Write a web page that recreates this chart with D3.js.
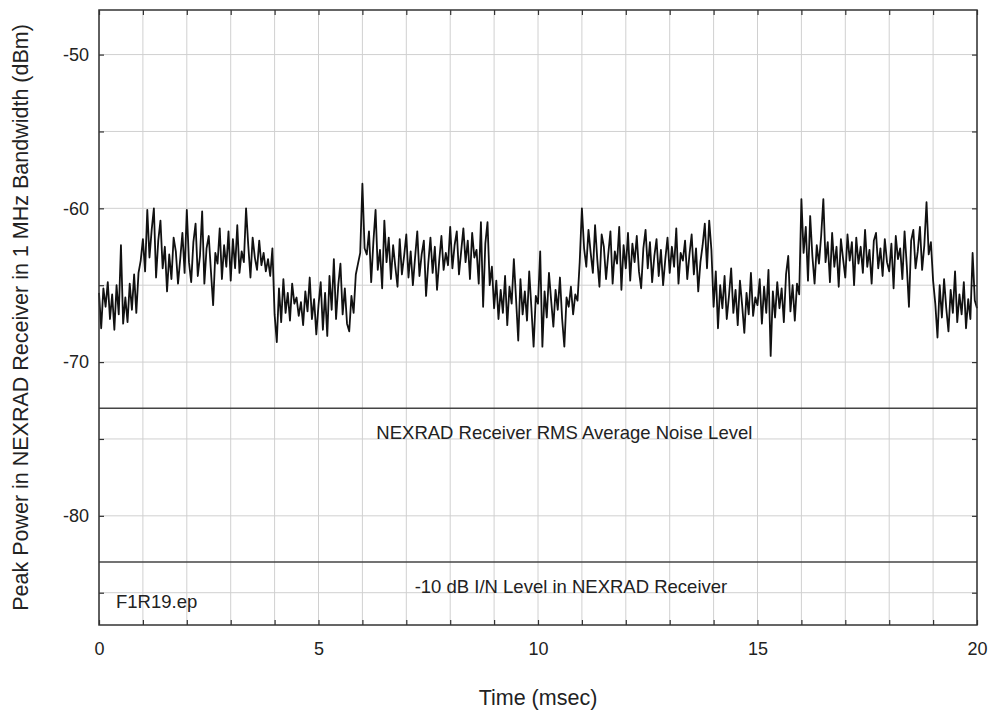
<!DOCTYPE html>
<html>
<head>
<meta charset="utf-8">
<script src="https://cdn.jsdelivr.net/npm/d3@7"></script>
<style>
  body { margin: 0; background: #fff; }
  svg text { font-family: "Liberation Sans", Arial, Helvetica, sans-serif; fill: #222; }
</style>
</head>
<body>
<div id="chart"></div>
<script>
// sampled every 0.05 msec, one row per msec
const timeStep = 0.05;
const peakPower = [
  -65.5,-67.8,-65.2,-66.4,-64.8,-67.2,-65.6,-67.9,-65.0,-66.9,-62.4,-67.5,-65.8,-67.4,-64.9,-66.6,-64.3,-66.8,-64.2,-63.4,
  -62.0,-64.1,-60.1,-63.2,-61.4,-60.0,-64.5,-62.1,-60.8,-63.9,-62.5,-65.4,-63.0,-64.6,-61.9,-62.8,-64.9,-63.3,-61.6,-64.2,
  -60.1,-63.5,-64.8,-62.2,-61.0,-64.4,-63.1,-60.2,-64.9,-62.6,-61.8,-64.1,-66.3,-62.9,-63.6,-61.3,-64.6,-62.4,-63.8,-61.5,
  -64.7,-62.0,-63.9,-61.1,-64.2,-62.8,-63.5,-60.0,-62.4,-64.5,-61.9,-63.2,-64.0,-62.1,-63.7,-62.9,-64.1,-63.3,-64.4,-62.6,
  -66.9,-68.7,-65.2,-67.4,-64.6,-66.8,-65.5,-67.3,-64.9,-66.2,-65.8,-67.0,-66.1,-67.6,-65.4,-66.7,-64.5,-67.2,-65.9,-68.2,
  -66.3,-64.8,-67.9,-65.5,-68.3,-64.4,-66.6,-63.3,-67.2,-65.0,-63.6,-66.9,-65.2,-67.5,-68.0,-65.7,-66.8,-64.3,-63.6,-62.9,
  -58.4,-62.6,-63.0,-61.5,-64.8,-62.2,-60.1,-64.0,-62.7,-65.2,-60.8,-63.5,-61.9,-64.6,-62.4,-63.8,-65.1,-62.0,-64.3,-63.1,
  -61.7,-64.5,-62.8,-65.0,-63.2,-61.5,-64.4,-63.0,-62.1,-65.7,-63.6,-61.9,-64.2,-62.5,-65.3,-63.4,-61.8,-64.0,-62.9,-63.7,
  -61.2,-63.9,-62.4,-61.5,-64.3,-62.8,-61.3,-63.5,-62.1,-64.6,-61.6,-63.2,-62.7,-64.9,-60.9,-66.4,-62.3,-60.9,-65.0,-63.8,
  -66.5,-64.7,-67.2,-65.3,-66.8,-64.4,-67.6,-65.1,-66.2,-63.3,-65.9,-68.6,-64.6,-66.9,-65.4,-67.3,-64.1,-66.5,-69.0,-65.7,
  -66.2,-62.8,-69.0,-65.4,-67.1,-64.2,-66.0,-67.7,-65.3,-66.6,-64.5,-67.2,-69.0,-65.8,-66.4,-65.1,-66.9,-65.6,-66.0,-63.5,
  -60.0,-62.6,-63.8,-61.4,-62.9,-64.2,-61.1,-63.3,-65.1,-61.7,-62.5,-64.6,-63.0,-61.5,-64.9,-62.8,-63.6,-61.2,-65.3,-62.4,
  -63.9,-61.6,-64.7,-62.3,-63.5,-61.8,-64.1,-65.2,-62.6,-61.4,-63.9,-62.2,-64.8,-63.1,-62.0,-64.4,-62.7,-65.0,-63.3,-61.9,
  -64.2,-62.5,-63.8,-61.3,-64.9,-62.9,-63.4,-62.1,-64.6,-63.0,-61.7,-64.3,-62.6,-65.4,-63.5,-62.4,-61.0,-63.9,-60.8,-62.7,
  -66.4,-64.1,-67.8,-65.0,-66.5,-64.4,-67.2,-65.7,-63.9,-66.8,-65.3,-67.6,-64.7,-66.3,-68.1,-65.5,-66.9,-64.2,-67.0,-65.8,
  -66.3,-64.6,-67.5,-65.1,-66.8,-64.0,-69.6,-65.4,-67.1,-64.8,-66.5,-65.2,-67.4,-64.3,-63.1,-66.7,-65.0,-67.3,-64.9,-65.6,
  -59.4,-62.9,-61.2,-64.7,-60.5,-63.1,-64.9,-62.4,-63.6,-61.8,-59.4,-63.5,-62.2,-64.8,-61.6,-63.8,-62.5,-65.1,-62.0,-63.3,
  -64.5,-61.7,-63.4,-62.2,-65.0,-61.9,-63.6,-62.5,-64.2,-61.4,-63.8,-62.7,-64.9,-62.1,-61.6,-63.9,-62.6,-64.4,-62.0,-63.5,
  -64.1,-62.3,-65.2,-61.8,-63.3,-62.6,-64.6,-61.5,-63.7,-66.4,-62.1,-61.4,-63.9,-62.8,-61.2,-64.0,-62.4,-59.6,-63.0,-62.2,
  -64.7,-66.2,-68.4,-65.0,-67.1,-64.6,-66.5,-68.0,-65.3,-66.8,-64.1,-67.4,-65.6,-66.9,-64.8,-67.8,-65.9,-67.2,-62.9,-66.0,
  -66.5
];

const refLevels = [-73.0, -83.0];
const refLabels = ["NEXRAD Receiver RMS Average Noise Level", "-10 dB I/N Level in NEXRAD Receiver"];
const xTicks = [0, 5, 10, 15, 20];
const yTicks = [-80, -70, -60, -50];
const xGrid = d3.range(0, 21, 1);
const yGrid = [-85, -80, -75, -70, -65, -60, -55, -50];

const margin = {top: 10, right: 15, bottom: 90, left: 99},
      width = 992 - margin.left - margin.right,
      height = 715 - margin.top - margin.bottom;

const svg = d3.select("#chart").append("svg")
    .attr("width", 992)
    .attr("height", 715)
    .append("g")
    .attr("transform", `translate(${margin.left},${margin.top})`);

const x = d3.scaleLinear().domain([0, 20]).range([0, width]);
const y = d3.scaleLinear().domain([-87.1, -47.1]).range([height, 0]);

// grid
svg.append("g").selectAll("line").data(xGrid).enter().append("line")
    .attr("x1", d => x(d)).attr("x2", d => x(d))
    .attr("y1", 0).attr("y2", height)
    .style("stroke", "#d0d0d0").style("stroke-width", 1);
svg.append("g").selectAll("line").data(yGrid).enter().append("line")
    .attr("x1", 0).attr("x2", width)
    .attr("y1", d => y(d)).attr("y2", d => y(d))
    .style("stroke", "#d0d0d0").style("stroke-width", 1);

// inward ticks on all sides
const tickLen = 5;
function inner(g) {
    g.select(".domain").remove();
    g.selectAll(".tick line").style("stroke", "#333").style("stroke-width", 1.2);
    g.selectAll(".tick text").style("font-size", "18px").style("fill", "#222");
}
svg.append("g").attr("transform", `translate(0,${height})`)
    .call(d3.axisBottom(x).tickValues(xGrid).tickSizeInner(-tickLen).tickSizeOuter(0)
        .tickFormat(d => xTicks.includes(d) ? d : "").tickPadding(17))
    .call(inner);
svg.append("g")
    .call(d3.axisTop(x).tickValues(xGrid).tickSizeInner(-tickLen).tickSizeOuter(0).tickFormat(""))
    .call(inner);
svg.append("g")
    .call(d3.axisLeft(y).tickValues(yGrid).tickSizeInner(-tickLen).tickSizeOuter(0)
        .tickFormat(d => yTicks.includes(d) ? d : "").tickPadding(10))
    .call(inner);
svg.append("g").attr("transform", `translate(${width},0)`)
    .call(d3.axisRight(y).tickValues(yGrid).tickSizeInner(-tickLen).tickSizeOuter(0).tickFormat(""))
    .call(inner);

// reference levels
svg.append("g").selectAll("line").data(refLevels).enter().append("line")
    .attr("x1", 0).attr("x2", width)
    .attr("y1", d => y(d)).attr("y2", d => y(d))
    .style("stroke", "#444").style("stroke-width", 1.4);
svg.append("g").selectAll("text").data(refLevels).enter().append("text")
    .attr("x", (d, i) => i === 0 ? x(10.6) : x(10.75))
    .attr("y", d => y(d) + 31)
    .attr("text-anchor", "middle")
    .style("font-size", "18.5px")
    .text((d, i) => refLabels[i]);

// trace
const line = d3.line()
    .x((d, i) => x(i * timeStep))
    .y(d => y(d));
svg.append("path").datum(peakPower)
    .attr("d", line)
    .style("fill", "none")
    .style("stroke", "#111")
    .style("stroke-width", 1.8)
    .style("stroke-linejoin", "round");

// frame
svg.append("rect").attr("width", width).attr("height", height)
    .style("fill", "none").style("stroke", "#333").style("stroke-width", 1.5);

svg.append("text").attr("x", 17).attr("y", height - 17)
    .style("font-size", "18.5px").text("F1R19.ep");

svg.append("text").attr("text-anchor", "middle")
    .attr("x", width / 2).attr("y", height + 80)
    .style("font-size", "21.5px").text("Time (msec)");
svg.append("text").attr("text-anchor", "middle")
    .attr("transform", "rotate(-90)")
    .attr("x", -height / 2).attr("y", -71)
    .style("font-size", "21.5px")
    .text("Peak Power in NEXRAD Receiver in 1 MHz Bandwidth (dBm)");
</script>
</body>
</html>
